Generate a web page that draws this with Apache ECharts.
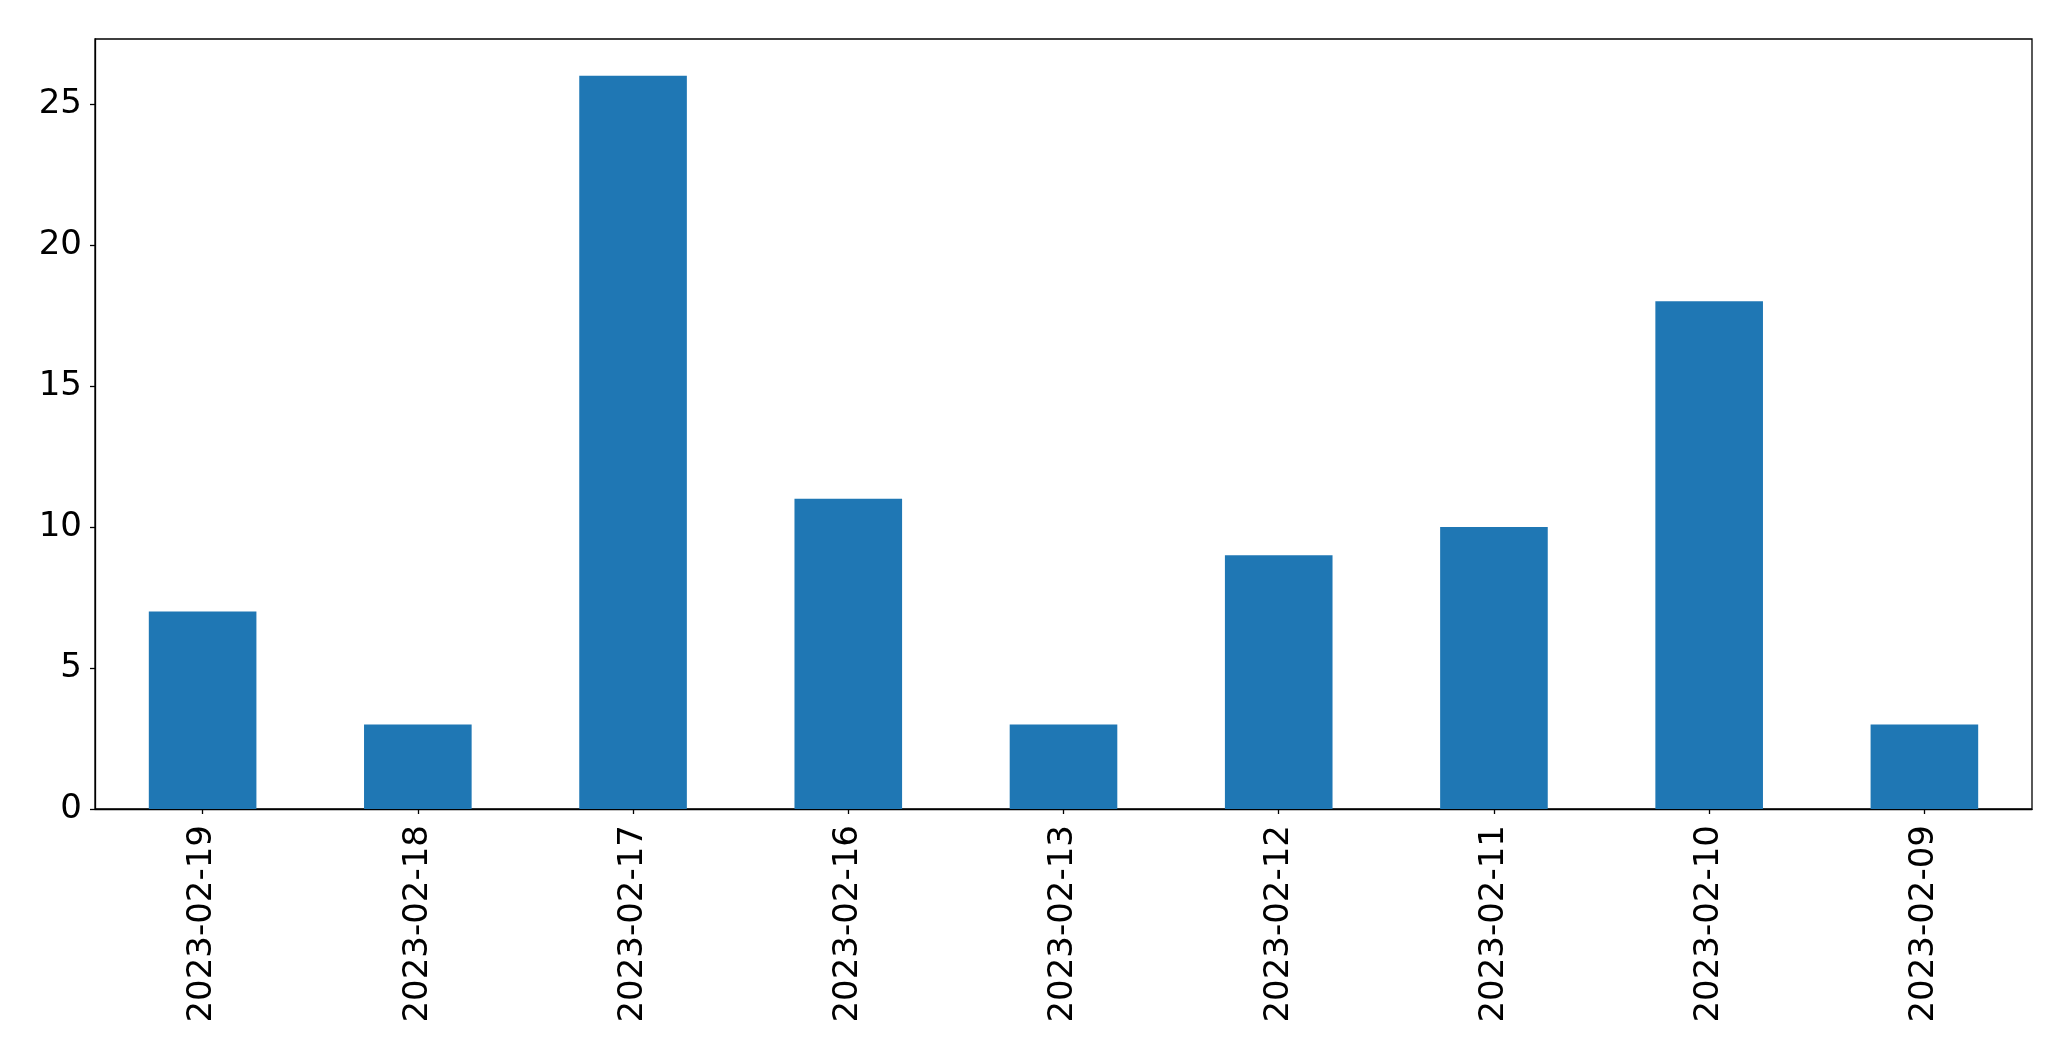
<!DOCTYPE html>
<html><head><meta charset="utf-8">
<script src="https://cdn.jsdelivr.net/npm/echarts@6/dist/echarts.min.js"></script>
<style>html,body{margin:0;padding:0;background:#fff}#c{width:2071px;height:1061px}</style>
</head><body><div id="c"></div>
<script>
const categories = ['2023-02-19','2023-02-18','2023-02-17','2023-02-16','2023-02-13','2023-02-12','2023-02-11','2023-02-10','2023-02-09'];
const values = [7, 3, 26, 11, 3, 9, 10, 18, 3];
const yTicks = [0, 5, 10, 15, 20, 25];
const yMax = 27.3;

const chart = echarts.init(document.getElementById('c'), null, {renderer: 'canvas'});
const font = 'DejaVu Sans';
chart.setOption({
  animation: false,
  backgroundColor: '#fff',
  grid: {left: 95, right: 39, top: 39, bottom: 252, containLabel: false,
         show: true, borderColor: '#000', borderWidth: 1.3, backgroundColor: 'transparent'},
  xAxis: {
    type: 'category', data: categories,
    axisLine: {show: true, lineStyle: {color: '#000', width: 1.3}},
    axisTick: {show: true, alignWithLabel: true, length: 5, lineStyle: {color: '#000', width: 1.3}},
    axisLabel: {rotate: 90, margin: 16, color: '#000', fontFamily: font, fontSize: 34, interval: 0},
    splitLine: {show: false}
  },
  yAxis: {
    type: 'value', min: 0, max: yMax, interval: 5,
    axisLine: {show: true, lineStyle: {color: '#000', width: 1.3}},
    axisTick: {show: true, length: 5, customValues: yTicks, lineStyle: {color: '#000', width: 1.3}},
    axisLabel: {customValues: yTicks, margin: 13, color: '#000', fontFamily: font, fontSize: 34},
    splitLine: {show: false}
  },
  series: [{
    type: 'bar', data: values, barWidth: '50%',
    itemStyle: {color: '#1f77b4'}
  }]
});
</script></body></html>
